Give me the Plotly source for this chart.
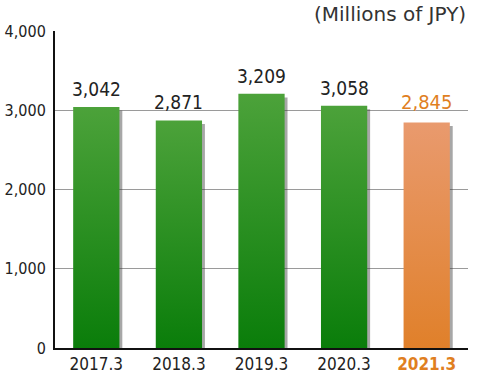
import plotly.graph_objects as go

categories = ["2017.3", "2018.3", "2019.3", "2020.3", "2021.3"]
values = [3042, 2871, 3209, 3058, 2845]
value_labels = ["3,042", "2,871", "3,209", "3,058", "2,845"]
y_ticks = [0, 1000, 2000, 3000, 4000]
y_tick_labels = ["0", "1,000", "2,000", "3,000", "4,000"]
unit_label = "(Millions of JPY)"

GREEN = [[0, "#0a7d0a"], [1, "#4ca23a"]]
ORANGE = [[0, "#e0802a"], [1, "#e99a6e"]]
HILITE = "#e07f1f"
FONT = "DejaVu Sans Condensed, Roboto Condensed, Roboto, sans-serif"
BAR_W = 0.56
SHADOW_DX = 0.035

fig = go.Figure()
n = len(categories)
for i, (cat, v) in enumerate(zip(categories, values)):
    last = i == n - 1
    x0, x1 = i - BAR_W / 2, i + BAR_W / 2
    fig.add_trace(go.Scatter(
        x=[x0 + SHADOW_DX, x1 + SHADOW_DX, x1 + SHADOW_DX, x0 + SHADOW_DX, x0 + SHADOW_DX],
        y=[0, 0, v * 0.985, v * 0.985, 0],
        fill="toself", fillcolor="rgba(60,60,60,0.45)", mode="lines",
        line=dict(width=0), hoverinfo="skip", showlegend=False))
    fig.add_trace(go.Scatter(
        x=[x0, x1, x1, x0, x0], y=[0, 0, v, v, 0],
        fill="toself", mode="lines", line=dict(width=0),
        fillgradient=dict(type="vertical", colorscale=ORANGE if last else GREEN),
        hoverinfo="skip", showlegend=False))

annotations = []
for i, (v, lab) in enumerate(zip(values, value_labels)):
    last = i == n - 1
    annotations.append(dict(
        x=i, y=v, xref="x", yref="y", text=lab,
        showarrow=False, xanchor="center", yanchor="bottom", yshift=5 if not last else 7,
        font=dict(family=FONT, size=19 if not last else 20,
                  color=HILITE if last else "#222222")))

annotations.append(dict(text=unit_label, xref="paper", yref="paper", x=1, y=1,
                        xanchor="right", yanchor="bottom", yshift=3, showarrow=False,
                        font=dict(family="DejaVu Sans, sans-serif", size=20, color="#333333")))

tick_text = [c if i < n - 1 else f"<span style='color:{HILITE}'><b>{c}</b></span>"
             for i, c in enumerate(categories)]

fig.update_layout(
    width=480, height=376,
    margin=dict(l=55, r=12, t=31, b=28),
    plot_bgcolor="white", paper_bgcolor="white",
    font=dict(family=FONT, size=17, color="#222222"),
    xaxis=dict(range=[-0.5, n - 0.5], tickvals=list(range(n)), ticktext=tick_text,
               showgrid=False, zeroline=False, showline=True, linecolor="#111111",
               linewidth=2, ticks="", automargin=False,
               tickfont=dict(family=FONT, size=17, color="#222222")),
    yaxis=dict(range=[0, 4000], tickvals=y_ticks, ticktext=y_tick_labels,
               showgrid=True, gridcolor="#9a9a9a", gridwidth=1, zeroline=False,
               showline=True, linecolor="#111111", linewidth=2, ticks="",
               ticklabelstandoff=4, automargin=False,
               tickfont=dict(family=FONT, size=16, color="#222222")),
    annotations=annotations,
)

fig.write_html("out.html", config={"displayModeBar": False},
               post_script="document.body.style.margin='0';document.body.style.overflow='hidden';")
